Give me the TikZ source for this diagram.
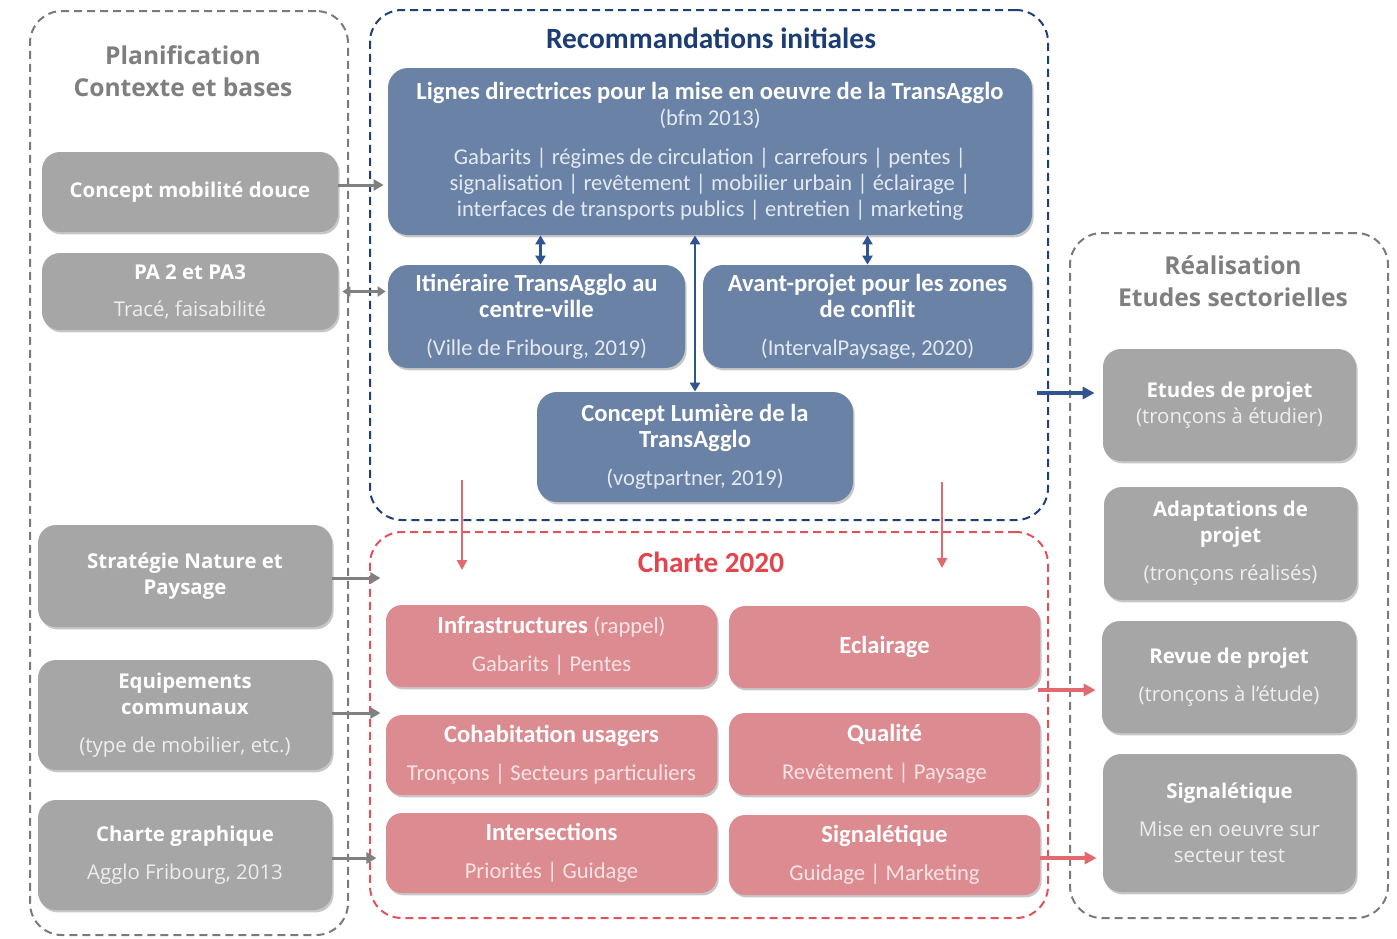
\documentclass[tikz,border=0pt]{standalone}
\usepackage{fontspec}
\setmainfont{Open Sans}
\newfontfamily\cond{Carlito}
\usetikzlibrary{arrows.meta,shadows}
\definecolor{boxgray}{HTML}{A6A6A6}
\definecolor{boxblue}{HTML}{6982A6}
\definecolor{boxpink}{HTML}{DC8B90}
\definecolor{titlegray}{HTML}{7F7F7F}
\definecolor{titleblue}{HTML}{1B3D74}
\definecolor{titlered}{HTML}{E2454D}
\definecolor{framegray}{HTML}{7A7A7A}
\definecolor{frameblue}{HTML}{1F3F78}
\definecolor{framered}{HTML}{E0535A}
\definecolor{arrgray}{HTML}{808080}
\definecolor{arrblue}{HTML}{2F5590}
\definecolor{arrred}{HTML}{E06A70}
\definecolor{ltgray}{HTML}{EEEEEE}
\definecolor{ltblue}{HTML}{E4EAF3}
\definecolor{ltpink}{HTML}{F8E4E6}
\newcommand\txg[1]{{\mdseries\textcolor{ltgray}{#1}}}
\newcommand\txb[1]{{\mdseries\fontsize{11.3}{13}\selectfont\textcolor{ltblue}{#1}}}
\newcommand\txp[1]{{\mdseries\fontsize{11.3}{13}\selectfont\textcolor{ltpink}{#1}}}
\tikzset{
  frame/.style={draw, dash pattern=on 4pt off 2.5pt, line width=1pt, rounded corners=16pt},
  shd/.style={drop shadow={shadow xshift=0.8pt, shadow yshift=-1.2pt, opacity=0.22, fill=black}},
  gbox/.style={shd, fill=boxgray, rounded corners=9pt, align=center, text=white, inner sep=2pt,
    font=\fontsize{10.2}{13}\selectfont\bfseries},
  bbox/.style={shd, fill=boxblue, rounded corners=10pt, align=center, text=white, inner sep=2pt,
    font=\cond\fontsize{12.3}{13}\selectfont\bfseries},
  pbox/.style={shd, fill=boxpink, rounded corners=8pt, align=center, text=white, inner sep=2pt,
    font=\cond\fontsize{12.3}{13}\selectfont\bfseries},
  gtitle/.style={text=titlegray, align=center, font=\fontsize{12.3}{16}\selectfont\bfseries},
  garrow/.style={draw=arrgray, line width=1.5pt, -{Triangle[length=5pt,width=5.5pt]}},
  gdarrow/.style={draw=arrgray, line width=1.5pt, {Triangle[length=4pt,width=5pt]}-{Triangle[length=4pt,width=5pt]}},
  bdarrow/.style={draw=arrblue, line width=1.3pt, {Triangle[length=4.5pt,width=5pt]}-{Triangle[length=4.5pt,width=5pt]}},
  barrow/.style={draw=arrblue, line width=1.6pt, -{Triangle[length=6pt,width=6pt]}},
  rarrow/.style={draw=arrred, line width=1.6pt, -{Triangle[length=6pt,width=6pt]}},
  rdarrow/.style={draw=arrred, line width=1.2pt, -{Triangle[length=5pt,width=5pt]}},
}
\begin{document}
\begin{tikzpicture}[x=0.5pt,y=-0.5pt]
\useasboundingbox[fill=white] (0,0) rectangle (1397,938);
% containers
\node[frame, draw=framegray, minimum width=159pt, minimum height=462pt] (leftc) at (189,473) {};
\node[frame, draw=frameblue, minimum width=339pt, minimum height=255pt] (bluec) at (709,265) {};
\node[frame, draw=framered, minimum width=339pt, minimum height=193pt] (redc) at (709,725) {};
\node[frame, draw=framegray, minimum width=159pt, minimum height=342.5pt] (rightc) at (1229,575.5) {};
% titles
\node[gtitle] (tleft) at (183,71) {Planification\\Contexte et bases};
\node[gtitle] (tright) at (1233,281) {Réalisation\\Etudes sectorielles};
\node[text=titleblue, font=\cond\fontsize{14.7}{16}\selectfont\bfseries] (tblue) at (711,38) {Recommandations initiales};
\node[text=titlered, font=\cond\fontsize{14.6}{16}\selectfont\bfseries] (tred) at (711,562) {Charte 2020};
% left gray boxes
\node[gbox, minimum width=148pt, minimum height=40pt] (cmd) at (190,192) {Concept mobilité douce};
\node[gbox, minimum width=148pt, minimum height=38.5pt] (pa) at (190,291.5) {PA 2 et PA3\\[5.5pt]\txg{Tracé, faisabilité}};
\node[gbox, minimum width=147pt, minimum height=51pt] (strat) at (185,576) {Stratégie Nature et\\Paysage};
\node[gbox, minimum width=147pt, minimum height=55pt] (equip) at (185,715) {Equipements\\communaux\\[6pt]\txg{(type de mobilier, etc.)}};
\node[gbox, minimum width=147pt, minimum height=55pt] (cgraph) at (185,855) {Charte graphique\\[6pt]\txg{Agglo Fribourg, 2013}};
% blue boxes
\node[bbox, minimum width=322pt, minimum height=83.5pt] (lignes) at (710,151.5)
  {Lignes directrices pour la mise en oeuvre de la TransAgglo\\\txb{(bfm 2013)}\\[6.5pt]
   \txb{Gabarits | régimes de circulation | carrefours | pentes |}\\
   \txb{signalisation | revêtement | mobilier urbain | éclairage |}\\
   \txb{interfaces de transports publics | entretien | marketing}};
\node[bbox, minimum width=148.5pt, minimum height=51.5pt] (itin) at (536.5,316.5)
  {Itinéraire TransAgglo au\\centre-ville\\[6pt]\txb{(Ville de Fribourg, 2019)}};
\node[bbox, minimum width=164.5pt, minimum height=51.5pt] (avant) at (867.5,316.5)
  {Avant-projet pour les zones\\de conflit\\[6pt]\txb{(IntervalPaysage, 2020)}};
\node[bbox, minimum width=158pt, minimum height=55pt] (lum) at (695,447)
  {Concept Lumière de la\\TransAgglo\\[6pt]\txb{(vogtpartner, 2019)}};
% pink boxes
\node[pbox, minimum width=165.5pt, minimum height=41pt] (infra) at (551.5,646)
  {Infrastructures \txp{(rappel)}\\[6pt]\txp{Gabarits | Pentes}};
\node[pbox, minimum width=155.5pt, minimum height=41pt] (ecl) at (884.5,647) {Eclairage};
\node[pbox, minimum width=165.5pt, minimum height=40pt] (cohab) at (551.5,755)
  {Cohabitation usagers\\[6pt]\txp{Tronçons | Secteurs particuliers}};
\node[pbox, minimum width=155.5pt, minimum height=41pt] (qual) at (884.5,754)
  {Qualité\\[6pt]\txp{Revêtement | Paysage}};
\node[pbox, minimum width=165.5pt, minimum height=40pt] (inter) at (551.5,853)
  {Intersections\\[6pt]\txp{Priorités | Guidage}};
\node[pbox, minimum width=155.5pt, minimum height=40pt] (signp) at (884.5,855)
  {Signalétique\\[6pt]\txp{Guidage | Marketing}};
% right gray boxes
\node[gbox, minimum width=126.5pt, minimum height=56pt] (etud) at (1229.5,405)
  {Etudes de projet\\\txg{(tronçons à étudier)}};
\node[gbox, minimum width=126.5pt, minimum height=56.5pt] (adapt) at (1230.5,543.5)
  {Adaptations de\\projet\\[6pt]\txg{(tronçons réalisés)}};
\node[gbox, minimum width=127pt, minimum height=56pt] (revue) at (1229,677)
  {Revue de projet\\[6pt]\txg{(tronçons à l’étude)}};
\node[gbox, minimum width=126.5pt, minimum height=69pt] (signr) at (1229.5,823)
  {Signalétique\\[6pt]\txg{Mise en oeuvre sur}\\\txg{secteur test}};
% arrows left -> middle
\draw[garrow, shorten >=2pt] ([yshift=3.5pt]cmd.east) -- ([yshift=3.5pt]cmd.east -| lignes.west);
\draw[gdarrow, shorten <=2pt, shorten >=1pt] (pa.east) -- (pa.east -| itin.west);
\draw[garrow] ([yshift=-1pt]strat.east) -- +(48,0);
\draw[garrow] ([yshift=1pt]equip.east) -- +(48,0);
\draw[garrow] ([yshift=-1.5pt]cgraph.east) -- +(44,0);
% blue internal arrows
\draw[bdarrow] ([xshift=2pt]itin.north) -- ([xshift=2pt]itin.north |- lignes.south);
\draw[bdarrow] (avant.north) -- (avant.north |- lignes.south);
\draw[bdarrow] (lum.north) -- (lum.north |- lignes.south);
% red arrows from recommendations into charter
\coordinate (r1s) at (462,480);
\coordinate (r1e) at (462,570);
\coordinate (r2s) at (942,482);
\coordinate (r2e) at (942,568);
\draw[rdarrow] (r1s) -- (r1e);
\draw[rdarrow] (r2s) -- (r2e);
% arrows to realisation
\coordinate (b1s) at (1037,393);
\draw[barrow, shorten >=4pt] (b1s) -- (b1s -| etud.west);
\coordinate (r3s) at (1038,690);
\draw[rarrow, shorten >=3pt] (r3s) -- (r3s -| revue.west);
\coordinate (r4s) at (1040,858);
\draw[rarrow, shorten >=3pt] (r4s) -- (r4s -| signr.west);
\end{tikzpicture}
\end{document}
